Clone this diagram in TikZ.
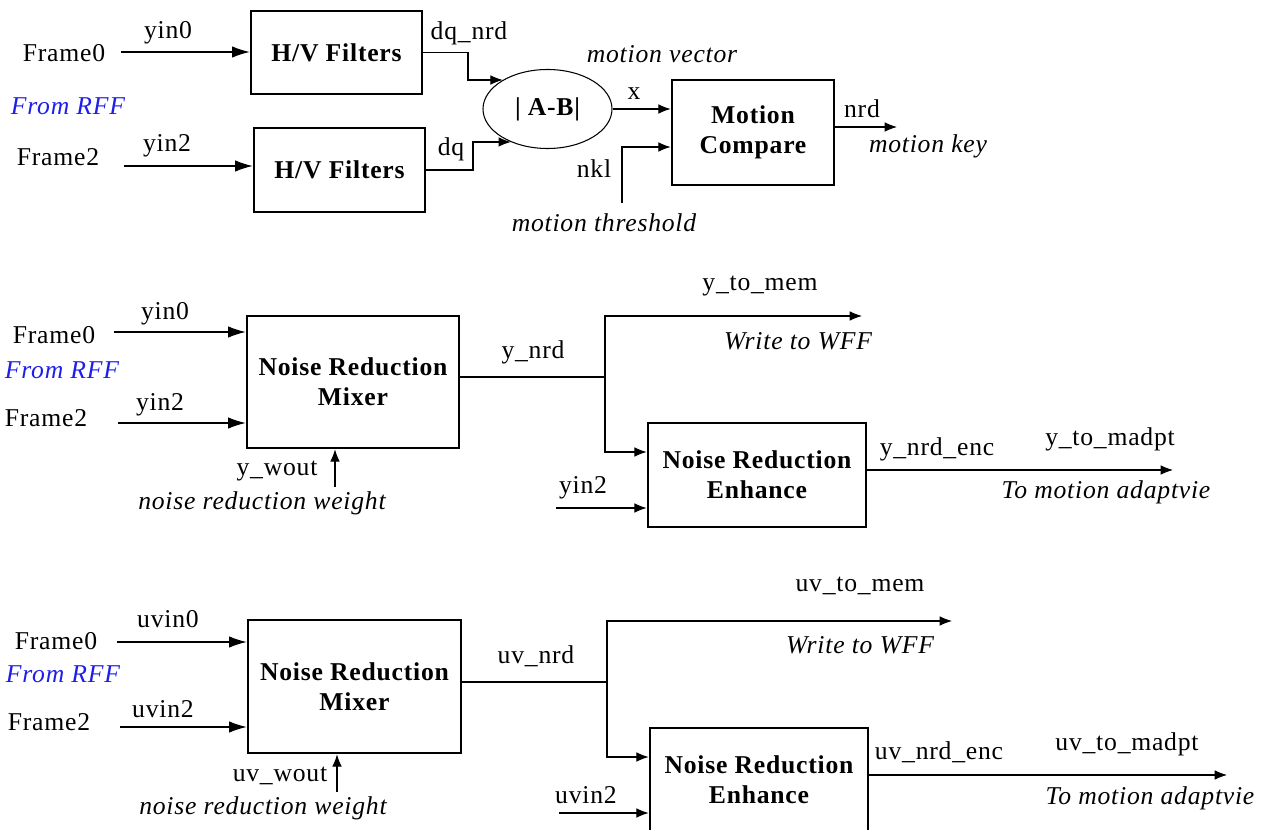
\documentclass[tikz,border=0pt]{standalone}
\usepackage{fontspec}
\setmainfont{Liberation Serif}[LetterSpace=3]
\usepackage{xcolor}
\usetikzlibrary{arrows.meta,shapes.geometric}
\definecolor{rffblue}{RGB}{30,30,235}

\begin{document}
\begin{tikzpicture}[x=0.2mm,y=-0.2mm,
  every node/.style={inner sep=0pt,font=\fontsize{14.6}{17.2}\selectfont},
  blk/.style={draw,line width=1.5pt,align=center,font=\fontsize{14.6}{17.2}\selectfont\bfseries},
  lbl/.style={font=\fontsize{14.6}{17.2}\selectfont\itshape},
  rff/.style={lbl,text=rffblue},
  ln/.style={line width=0.6pt},
  arr/.style={ln,-{Latex[length=7pt,width=5.5pt]}},
  inarr/.style={ln,-{Latex[length=10pt,width=6.5pt]}}]
\useasboundingbox (0,0) rectangle (1270,830);
% motion detection
\node(fa0)at(64,53){Frame0};
\node(ya0)at(168,33){yin0};
\node(rffA)at(68,106)[rff]{From RFF};
\node(fa2)at(58,157){Frame2};
\node(ya2)at(167,146){yin2};
\node(hvA)at(336.5,52.5)[blk,minimum width=34.2mm,minimum height=16.6mm]{H/V Filters};
\node(hvB)at(339.5,170)[blk,minimum width=34.2mm,minimum height=16.8mm]{H/V Filters};
\node(abs)at(547.5,109)[ellipse,draw,line width=0.6pt,minimum width=25.8mm,minimum height=15.8mm,font=\fontsize{14.6}{17.2}\selectfont\bfseries]{| A-B|};
\node(cmp)at(753,132.5)[blk,minimum width=32.4mm,minimum height=21mm]{Motion\\Compare};
\coordinate(a0)at(121,52); \draw[inarr](a0)--(a0-|hvA.west);
\coordinate(a2)at(124,166); \draw[inarr](a2)--(a2-|hvB.west);
\node(dqn)at(469,33){dq\_nrd};
\node(dq)at(451,149){dq};
\coordinate(dA)at(468,80); \draw[arr](hvA.east)-|(dA)--(dA-|abs.147);
\coordinate(dB)at(473,142); \draw[arr](hvB.east)-|(dB)--(dB-|abs.222);
\node(mv)at(662,54)[lbl]{motion vector};
\node(xx)at(634,94){x};
\draw[arr](abs.east)--(abs.east-|cmp.west);
\node(nkl)at(594,169){nkl};
\node(mth)at(604,223)[lbl]{motion threshold};
\coordinate(nk)at(622,203); \coordinate(nkT)at(622,147);
\draw[arr](nk)--(nkT)--(nkT-|cmp.west);
\node(nrd)at(862,109){nrd};
\node(mk)at(928,146)[lbl]{motion key};
\coordinate(nr)at(897,127); \draw[arr](nr-|cmp.east)--(nr);
% luma noise reduction
\node(fb0)at(54,335){Frame0};
\node(yb0)at(165,314){yin0};
\node(rffB)at(62,370)[rff]{From RFF};
\node(fb2)at(46,418){Frame2};
\node(yb2)at(160,405){yin2};
\node(mixY)at(353,382)[blk,minimum width=42.4mm,minimum height=26.4mm]{Noise Reduction\\Mixer};
\node(encY)at(757,475)[blk,minimum width=43.6mm,minimum height=20.8mm]{Noise Reduction\\Enhance};
\coordinate(b0)at(114,332); \draw[inarr](b0)--(b0-|mixY.west);
\coordinate(b2)at(118,423); \draw[inarr](b2)--(b2-|mixY.west);
\node(ywo)at(277,471){y\_wout};
\node(nwY)at(262,503)[lbl]{noise reduction weight};
\coordinate(wY)at(335,487); \draw[arr](wY)--(wY|-mixY.south);
\node(ynrd)at(533,352){y\_nrd};
\coordinate(sY)at(605,377); \draw[ln](sY-|mixY.east)--(sY);
\coordinate(mY)at(862,316); \draw[arr](sY)|-(mY);
\coordinate(eY)at(605,452); \draw[arr](sY)--(eY)--(eY-|encY.west);
\node(ytm)at(760,286){y\_to\_mem};
\node(wfY)at(798,341)[lbl]{Write to WFF};
\node(yi2)at(583,488){yin2};
\coordinate(iY)at(556,508); \draw[arr](iY)--(iY-|encY.west);
\node(yne)at(937,449){y\_nrd\_enc};
\node(ytma)at(1110,439){y\_to\_madpt};
\node(tmY)at(1106,492)[lbl]{To motion adaptvie};
\coordinate(oY)at(1173,470); \draw[arr](oY-|encY.east)--(oY);
% chroma noise reduction
\node(fc0)at(56,641){Frame0};
\node(uc0)at(168,619){uvin0};
\node(rffC)at(63,674)[rff]{From RFF};
\node(fc2)at(49,722){Frame2};
\node(uc2)at(163,709){uvin2};
\node(mixU)at(354.5,686.5)[blk,minimum width=42.6mm,minimum height=26.6mm]{Noise Reduction\\Mixer};
\node(encU)at(759,780)[blk,minimum width=43.6mm,minimum height=20.8mm]{Noise Reduction\\Enhance};
\coordinate(c0)at(117,642); \draw[inarr](c0)--(c0-|mixU.west);
\coordinate(c2)at(120,727); \draw[inarr](c2)--(c2-|mixU.west);
\node(uwo)at(280,776){uv\_wout};
\node(nwU)at(263,808)[lbl]{noise reduction weight};
\coordinate(wU)at(337,792); \draw[arr](wU)--(wU|-mixU.south);
\node(unrd)at(536,656){uv\_nrd};
\coordinate(sU)at(607,682); \draw[ln](sU-|mixU.east)--(sU);
\coordinate(mU)at(952,621); \draw[arr](sU)|-(mU);
\coordinate(eU)at(607,757); \draw[arr](sU)--(eU)--(eU-|encU.west);
\node(utm)at(860,586){uv\_to\_mem};
\node(wfU)at(860,645)[lbl]{Write to WFF};
\node(ui2)at(586,795){uvin2};
\coordinate(iU)at(559,813); \draw[arr](iU)--(iU-|encU.west);
\node(une)at(939,752){uv\_nrd\_enc};
\node(utma)at(1127,744){uv\_to\_madpt};
\node(tmU)at(1150,798)[lbl]{To motion adaptvie};
\coordinate(oU)at(1227,775); \draw[arr](oU-|encU.east)--(oU);
\end{tikzpicture}
\end{document}
